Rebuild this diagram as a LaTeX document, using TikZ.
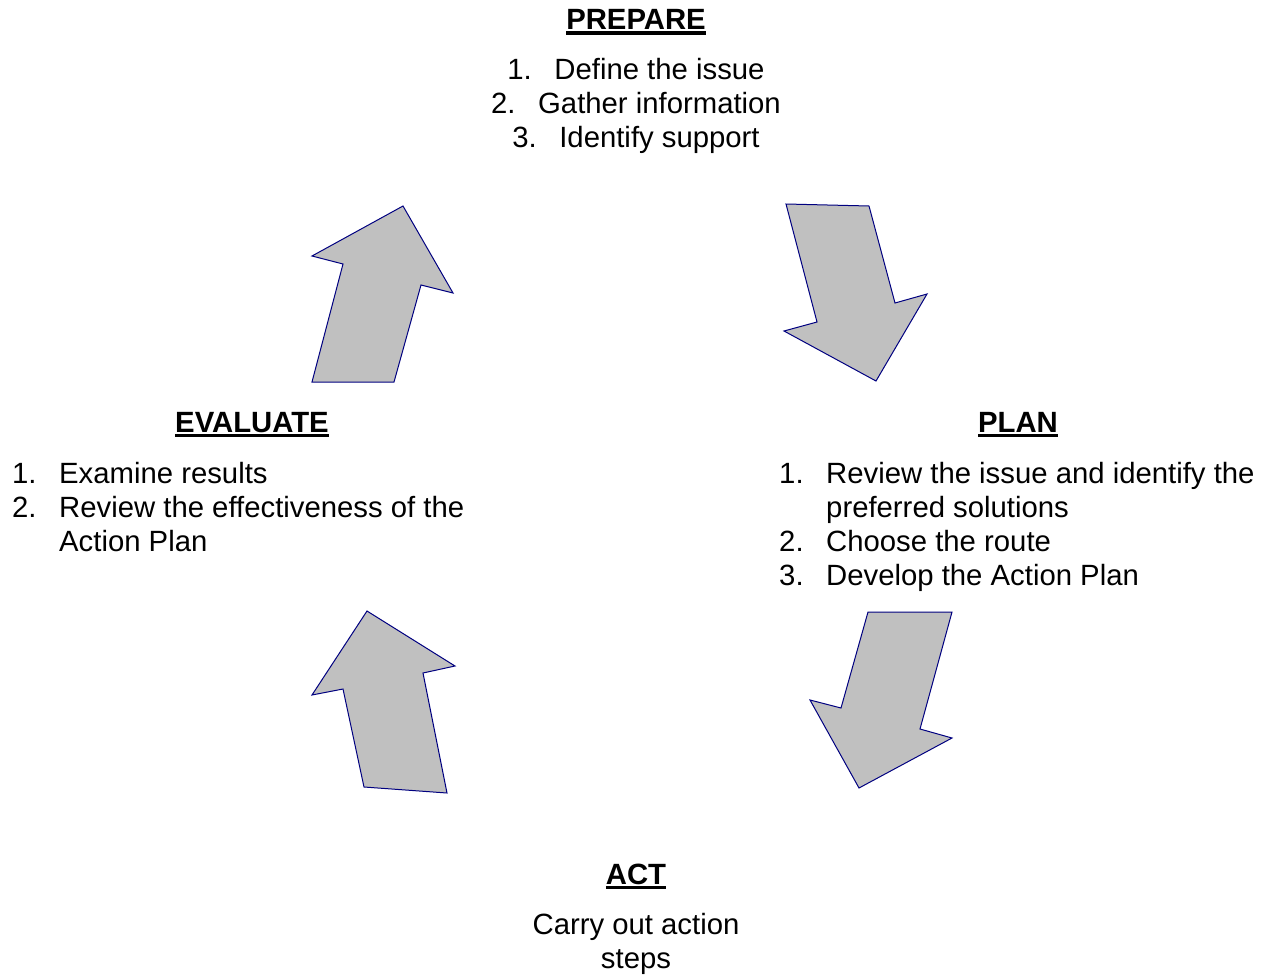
\documentclass[tikz,border=0pt]{standalone}
\usepackage{fontspec}
\setmainfont{Liberation Sans}
\usetikzlibrary{positioning}
\definecolor{arrowfill}{RGB}{192,192,192}
\definecolor{arrowline}{RGB}{0,0,128}
\newcommand{\headul}[1]{\vtop{\hbox{#1}\kern1.5pt\hrule height 3.5pt}}
\newcommand{\itemno}[1]{\makebox[47pt][l]{#1}}

\begin{document}
\begin{tikzpicture}[x=1pt,y=-1pt,
    head/.style={font=\fontsize{29.3}{34}\selectfont\bfseries,inner sep=0pt,anchor=base},
    txt/.style={font=\fontsize{29.3}{34}\selectfont,inner sep=0pt,anchor=base},
    blockarrow/.style={fill=arrowfill,draw=arrowline,line width=1pt}]
    \useasboundingbox (0,0) rectangle (1268,974);
    \node[head] (prepare) at (636,30) {\headul{PREPARE}};
    \node[txt,align=center] (preplist) at (636,147)
      {\itemno{1.}Define the issue\\ \itemno{2.}Gather information\\ \itemno{3.}Identify support};
    \node[head] (evaluate) at (252,432) {\headul{EVALUATE}};
    \node[txt,align=left,anchor=base west] (evallist) at (12,551)
      {\itemno{1.}Examine results\\ \itemno{2.}Review the effectiveness of the\\ \itemno{}Action Plan};
    \node[head] (plan) at (1018,432) {\headul{PLAN}};
    \node[txt,align=left,anchor=base west] (planlist) at (779,585)
      {\itemno{1.}Review the issue and identify the\\ \itemno{}preferred solutions\\ \itemno{2.}Choose the route\\ \itemno{3.}Develop the Action Plan};
    \node[head] (act) at (636,884) {\headul{ACT}};
    \node[txt,align=center] (actlist) at (636,968) {Carry out action\\ steps};
    \draw[blockarrow] (312,382) -- (394,382) -- (421,285) -- (453,293) -- (403,206) -- (312,256) -- (343,264) -- cycle;
    \draw[blockarrow] (786,204) -- (869,206) -- (895,303) -- (927,294) -- (876,381) -- (784,331) -- (817,322) -- cycle;
    \draw[blockarrow] (367,611) -- (455,666) -- (423,673) -- (447,793) -- (364,787) -- (343,689) -- (312,695) -- cycle;
    \draw[blockarrow] (868,612) -- (952,612) -- (920,729) -- (952,738) -- (859,788) -- (810,700) -- (841,708) -- cycle;
  \end{tikzpicture}
\end{document}
